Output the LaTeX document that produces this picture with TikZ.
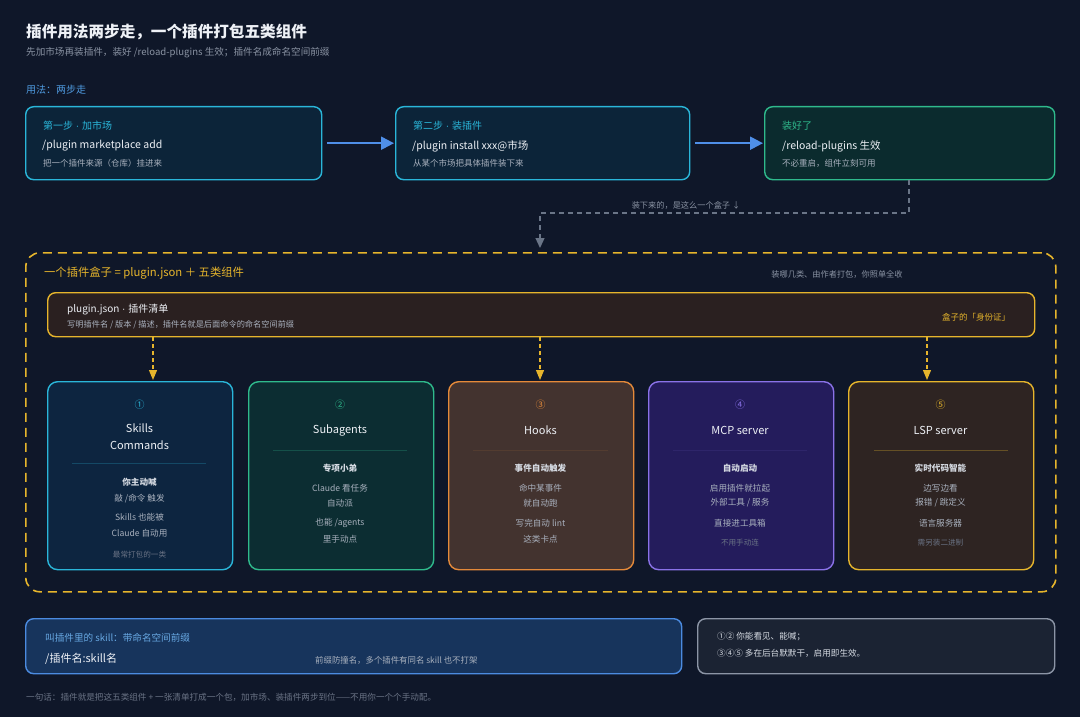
\documentclass[tikz,border=0pt]{standalone}
\usepackage{fontspec}
\setmainfont{Noto Sans CJK SC}
\newfontfamily\lat{Liberation Sans}
\usetikzlibrary{arrows.meta,calc}
\definecolor{bg}{HTML}{0F1729}
\definecolor{titlec}{HTML}{EEF1F6}
\definecolor{subc}{HTML}{8A93A3}
\definecolor{dimc}{HTML}{6A7385}
\definecolor{lblue}{HTML}{4F9BE0}
\definecolor{cyanc}{HTML}{2AB6D9}
\definecolor{cyanf}{HTML}{0C2439}
\definecolor{greenc}{HTML}{2FBA8C}
\definecolor{greenf}{HTML}{0B2B2E}
\definecolor{arrowblue}{HTML}{4F8FE8}
\definecolor{yel}{HTML}{E6B52C}
\definecolor{barf}{HTML}{2A2020}
\definecolor{c1f}{HTML}{0D2540}
\definecolor{c2f}{HTML}{0C2D32}
\definecolor{orc}{HTML}{E58A3A}
\definecolor{c3f}{HTML}{43332F}
\definecolor{puc}{HTML}{8A72E8}
\definecolor{c4f}{HTML}{241C5C}
\definecolor{c5f}{HTML}{2E2422}
\definecolor{greyln}{HTML}{6A7587}
\definecolor{bbc}{HTML}{4B8BE0}
\definecolor{bbf}{HTML}{17345C}
\definecolor{gbc}{HTML}{8C95A6}
\definecolor{gbf}{HTML}{1B2333}
\definecolor{hi}{HTML}{D6DBE3}
\definecolor{mid}{HTML}{A9B1BE}
\newcommand\myfs[1]{\fontsize{#1}{#1}\selectfont}
\newcommand\mdot{{\lat\ ·\ }}
\tikzset{
  txt/.style={inner sep=0, anchor=west},
  ctxt/.style={inner sep=0, anchor=center},
  panel/.style={rounded corners=8pt, line width=1.4pt, anchor=north west, inner sep=0},
  card/.style={rounded corners=10pt, line width=1.4pt, anchor=north west, inner sep=0, minimum width=185pt, minimum height=188pt},
  bluearrow/.style={draw=arrowblue, line width=2.2pt, -{Triangle[length=13pt,width=13pt,fill=arrowblue]}},
  greydash/.style={draw=greyln, line width=1.3pt, dash pattern=on 5pt off 4pt, -{Triangle[length=10pt,width=9pt,fill=greyln]}},
  yeldash/.style={draw=yel, line width=1.2pt, dash pattern=on 4pt off 3pt, -{Triangle[length=10pt,width=8pt,fill=yel]}},
  sepline/.style={line width=0.6pt},
  ctitle/.style={ctxt, text=titlec, font=\myfs{11}},
  chi/.style={ctxt, text=hi, font=\myfs{8.6}\bfseries},
  cmid/.style={ctxt, text=mid, font=\myfs{8.6}},
  cdim/.style={ctxt, text=dimc, font=\myfs{7.6}},
  cnum/.style={ctxt, font=\myfs{10}},
}
\begin{document}
\begin{tikzpicture}[x=1pt,y=-1pt]
\fill[bg] (0,0) rectangle (1080,717);
\useasboundingbox (0,0) rectangle (1080,717);
% header
\node[txt, text=titlec, font=\myfs{15.6}\bfseries] (title) at (26,32) {插件用法两步走，一个插件打包五类组件};
\node[txt, text=subc, font=\myfs{9.6}] (subtitle) at (26,53) {先加市场再装插件，装好 /reload-plugins 生效；插件名成命名空间前缀};
\node[txt, text=lblue, font=\myfs{10}] (usage) at (26,90) {用法：两步走};
% step boxes
\node[panel, draw=cyanc, fill=cyanf, minimum width=296pt, minimum height=73pt] (s1) at (25,106) {};
\node[panel, draw=cyanc, fill=cyanf, minimum width=294pt, minimum height=73pt] (s2) at (395,106) {};
\node[panel, draw=greenc, fill=greenf, minimum width=290pt, minimum height=73pt] (s3) at (764,106) {};
\node[txt, text=cyanc, font=\myfs{10}] (s1a) at (43,126) {第一步\mdot 加市场};
\node[txt, text=titlec, font=\myfs{10.5}] (s1b) at (42,146) {/plugin marketplace add};
\node[txt, text=mid, font=\myfs{8.5}] (s1c) at (43,163) {把一个插件来源（仓库）挂进来};
\node[txt, text=cyanc, font=\myfs{10}] (s2a) at (413,126) {第二步\mdot 装插件};
\node[txt, text=titlec, font=\myfs{10.5}] (s2b) at (412,146) {/plugin install xxx@市场};
\node[txt, text=mid, font=\myfs{8.5}] (s2c) at (413,163) {从某个市场把具体插件装下来};
\node[txt, text=greenc, font=\myfs{10}] (s3a) at (782,126) {装好了};
\node[txt, text=titlec, font=\myfs{10.5}] (s3b) at (782,146) {/reload-plugins 生效};
\node[txt, text=mid, font=\myfs{8.5}] (s3c) at (782,163) {不必重启，组件立刻可用};
\draw[bluearrow] ([xshift=5pt]s1.east) -- ([xshift=-1pt]s2.west);
\draw[bluearrow] ([xshift=5pt]s2.east) -- ([xshift=-1pt]s3.west);
% plugin box
\node[anchor=north west, inner sep=0, minimum width=1030pt, minimum height=339pt, rounded corners=14pt, draw=yel, line width=1.6pt, dash pattern=on 9pt off 6pt] (pbox) at (25,252) {};
\coordinate (bend) at (909,213);
\coordinate (drop) at (540,213);
\draw[greydash] (s3.south -| bend) -- (bend) -- (drop) -- ([yshift=4pt]pbox.north -| drop);
\node[ctxt, text=subc, font=\myfs{8.2}] (boxnote) at (686,205) {装下来的，是这么一个盒子 ↓};
\node[txt, text=yel, font=\myfs{11.3}] (ptitle) at (44,273) {一个插件盒子 = plugin.json ＋ 五类组件};
\node[ctxt, text=subc, font=\myfs{8.2}] (pnote) at (837,274) {装哪几类、由作者打包，你照单全收};
% plugin.json bar
\node[panel, draw=yel, fill=barf, minimum width=987pt, minimum height=44pt] (bar) at (47,292) {};
\node[txt, text=titlec, font=\myfs{10}] (bara) at (67,310) {plugin.json\mdot 插件清单};
\node[txt, text=mid, font=\myfs{8.2}] (barb) at (67,325) {写明插件名 / 版本 / 描述，插件名就是后面命令的命名空间前缀};
\node[ctxt, text=yel, font=\myfs{8.5}] (barc) at (976,317) {盒子的「身份证」};
% cards
\node[card, draw=cyanc, fill=c1f] (c1) at (47,381) {};
\node[card, draw=greenc, fill=c2f] (c2) at (248,381) {};
\node[card, draw=orc, fill=c3f] (c3) at (448,381) {};
\node[card, draw=puc, fill=c4f] (c4) at (648,381) {};
\node[card, draw=yel, fill=c5f] (c5) at (848,381) {};
\coordinate (t1) at (153,0);
\coordinate (t3) at (540,0);
\coordinate (t5) at (927,0);
\draw[yeldash] (bar.south -| t1) -- ([yshift=1pt]c1.north -| t1);
\draw[yeldash] (bar.south -| t3) -- ([yshift=1pt]c3.north -| t3);
\draw[yeldash] (bar.south -| t5) -- ([yshift=1pt]c5.north -| t5);
% card 1
\node[cnum, text=cyanc] (n1) at (139.5,405) {①};
\node[ctitle] (c1t1) at (139.5,428) {Skills};
\node[ctitle] (c1t2) at (139.5,445) {Commands};
\draw[sepline, draw=cyanc!25!c1f] (72,463) -- (206,463);
\node[chi] (c1l1) at (139.5,482) {你主动喊};
\node[cmid] (c1l2) at (139.5,499) {敲 /命令 触发};
\node[cmid] (c1l3) at (139.5,517) {Skills 也能被};
\node[cmid] (c1l4) at (139.5,533) {Claude 自动用};
\node[cdim] (c1l5) at (139.5,555) {最常打包的一类};
% card 2
\node[cnum, text=greenc] (n2) at (340,405) {②};
\node[ctitle] (c2t1) at (340,430) {Subagents};
\draw[sepline, draw=greenc!25!c2f] (273,450) -- (407,450);
\node[chi] (c2l1) at (340,468) {专项小弟};
\node[cmid] (c2l2) at (340,488) {Claude 看任务};
\node[cmid] (c2l3) at (340,503) {自动派};
\node[cmid] (c2l4) at (340,523) {也能 /agents};
\node[cmid] (c2l5) at (340,539) {里手动点};
% card 3
\node[cnum, text=orc] (n3) at (540.5,405) {③};
\node[ctitle] (c3t1) at (540.5,430) {Hooks};
\draw[sepline, draw=orc!10!c3f] (473,450) -- (608,450);
\node[chi] (c3l1) at (540.5,468) {事件自动触发};
\node[cmid] (c3l2) at (540.5,488) {命中某事件};
\node[cmid] (c3l3) at (540.5,503) {就自动跑};
\node[cmid] (c3l4) at (540.5,523) {写完自动 lint};
\node[cmid] (c3l5) at (540.5,539) {这类卡点};
% card 4
\node[cnum, text=puc] (n4) at (740,405) {④};
\node[ctitle] (c4t1) at (740,430) {MCP server};
\draw[sepline, draw=puc!10!c4f] (673,450) -- (807,450);
\node[chi] (c4l1) at (740,468) {自动启动};
\node[cmid] (c4l2) at (740,488) {启用插件就拉起};
\node[cmid] (c4l3) at (740,503) {外部工具 / 服务};
\node[cmid] (c4l4) at (740,523) {直接进工具箱};
\node[cdim] (c4l5) at (740,543) {不用手动连};
% card 5
\node[cnum, text=yel] (n5) at (940.5,405) {⑤};
\node[ctitle] (c5t1) at (940.5,430) {LSP server};
\draw[sepline, draw=yel!30!c5f] (874,450) -- (1008,450);
\node[chi] (c5l1) at (940.5,468) {实时代码智能};
\node[cmid] (c5l2) at (940.5,488) {边写边看};
\node[cmid] (c5l3) at (940.5,503) {报错 / 跳定义};
\node[cmid] (c5l4) at (940.5,523) {语言服务器};
\node[cdim] (c5l5) at (940.5,543) {需另装二进制};
% bottom boxes
\node[panel, draw=bbc, fill=bbf, minimum width=656pt, minimum height=55pt] (bl) at (25,618) {};
\node[txt, text=lblue!85!white, font=\myfs{9.6}] (bla) at (45,638) {叫插件里的 skill：带命名空间前缀};
\node[txt, text=titlec, font=\myfs{11}] (blb) at (45,659) {/插件名:skill名};
\node[txt, text=mid, font=\myfs{8.4}] (blc) at (315,660) {前缀防撞名，多个插件有同名 skill 也不打架};
\node[panel, draw=gbc, fill=gbf, minimum width=357pt, minimum height=55pt] (br) at (697,618) {};
\node[txt, text=hi, font=\myfs{8.6}] (bra) at (717,637) {①② 你能看见、能喊；};
\node[txt, text=hi, font=\myfs{8.6}] (brb) at (717,653) {③④⑤ 多在后台默默干，启用即生效。};
% footer
\node[txt, text=dimc, font=\myfs{8.6}] (foot) at (26,697) {一句话：插件就是把这五类组件 + 一张清单打成一个包，加市场、装插件两步到位——不用你一个个手动配。};
\end{tikzpicture}
\end{document}
